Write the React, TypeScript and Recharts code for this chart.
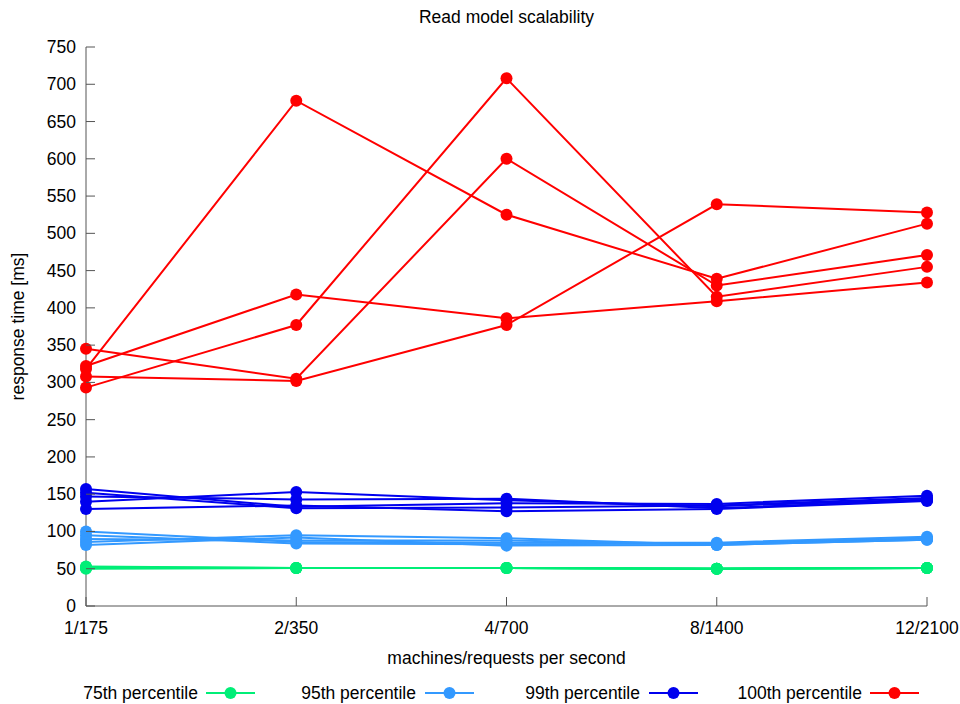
import React from 'react';
import { LineChart, Line, XAxis, YAxis } from 'recharts';

const categories = ['1/175', '2/350', '4/700', '8/1400', '12/2100'];
const yTicks = [0, 50, 100, 150, 200, 250, 300, 350, 400, 450, 500, 550, 600, 650, 700, 750];

const p75Runs = [
  [53, 51, 51, 50, 51],
  [52, 51, 51, 50, 51],
  [51, 51, 51, 50, 51],
  [51, 51, 51, 50, 51],
  [50, 51, 51, 50, 51],
];
const p95Runs = [
  [100, 86, 85, 85, 93],
  [95, 84, 83, 84, 91],
  [90, 88, 88, 83, 90],
  [86, 95, 91, 82, 89],
  [82, 92, 81, 82, 89],
];
const p99Runs = [
  [157, 133, 138, 137, 148],
  [152, 131, 132, 135, 145],
  [147, 143, 144, 131, 142],
  [140, 153, 142, 134, 143],
  [130, 135, 127, 130, 141],
];
const p100Runs = [
  [318, 678, 525, 439, 513],
  [345, 305, 600, 430, 471],
  [293, 377, 708, 415, 455],
  [322, 418, 386, 409, 434],
  [308, 302, 377, 539, 528],
];

const groups = [
  { key: 'p75', name: '75th percentile', color: '#00ee77', runs: p75Runs },
  { key: 'p95', name: '95th percentile', color: '#3399ff', runs: p95Runs },
  { key: 'p99', name: '99th percentile', color: '#0000ee', runs: p99Runs },
  { key: 'p100', name: '100th percentile', color: '#ff0000', runs: p100Runs },
];

const data = categories.map((c, i) => {
  const row: Record<string, any> = { cat: c };
  groups.forEach((g) => g.runs.forEach((r, j) => { row[`${g.key}_${j}`] = r[i]; }));
  return row;
});

const FONT = '"Liberation Sans", Arial, sans-serif';
const FS = 17.5;
const AXIS = '#555';

const YTick = (props: any) => {
  const { x, y, payload } = props;
  return (
    <g>
      <line x1={x} y1={y} x2={x + 9} y2={y} stroke={AXIS} strokeWidth={1} />
      <text x={x - 10} y={y + 6} textAnchor="end" fontFamily={FONT} fontSize={FS} fill="#000">{payload.value}</text>
    </g>
  );
};

const XTick = (props: any) => {
  const { x, y, payload } = props;
  return (
    <g>
      <line x1={x} y1={y} x2={x} y2={y - 9} stroke={AXIS} strokeWidth={1} />
      <text x={x} y={y + 28} textAnchor="middle" fontFamily={FONT} fontSize={FS} fill="#000">{payload.value}</text>
    </g>
  );
};

const legendItems = [
  { g: groups[0], textEnd: 198, sx: 206 },
  { g: groups[1], textEnd: 416, sx: 425 },
  { g: groups[2], textEnd: 640, sx: 649 },
  { g: groups[3], textEnd: 862, sx: 870 },
];

export default function App() {
  return (
    <div style={{ position: 'absolute', left: 0, top: 0, width: 960, height: 704, background: '#fff', fontFamily: FONT }}>
      <div style={{ position: 'absolute', left: 86, width: 841, top: 6, textAlign: 'center', fontSize: FS, lineHeight: '22px' }}>
        Read model scalability
      </div>
      <LineChart width={960} height={704} data={data} margin={{ top: 47, right: 33, left: 0, bottom: 0 }}>
        <XAxis
          dataKey="cat"
          height={98}
          tickLine={false}
          tickSize={0}
          tickMargin={0}
          tick={<XTick />}
          interval={0}
          axisLine={{ stroke: AXIS }}
          label={{
            content: (p: any) => {
              const vb = p.viewBox;
              return (
                <text x={vb.x + vb.width / 2} y={vb.y + 58} textAnchor="middle" fontFamily={FONT} fontSize={FS} fill="#000">
                  machines/requests per second
                </text>
              );
            },
          }}
        />
        <XAxis xAxisId="top" dataKey="cat" orientation="top" height={0} tick={false} tickLine={false} axisLine={{ stroke: AXIS }} />
        <YAxis
          width={86}
          domain={[0, 750]}
          ticks={yTicks}
          type="number"
          tickLine={false}
          tickSize={0}
          tickMargin={0}
          tick={<YTick />}
          interval={0}
          axisLine={{ stroke: AXIS }}
          label={{
            content: (p: any) => {
              const vb = p.viewBox;
              const cy = vb.y + vb.height / 2;
              return (
                <text x={24} y={cy} transform={`rotate(-90, 24, ${cy})`} textAnchor="middle" fontFamily={FONT} fontSize={FS} fill="#000">
                  response time [ms]
                </text>
              );
            },
          }}
        />
        <YAxis yAxisId="right" orientation="right" width={0} domain={[0, 750]} tick={false} tickLine={false} axisLine={{ stroke: AXIS }} />
        {groups.map((g) =>
          g.runs.map((_, j) => (
            <Line
              key={`${g.key}_${j}`}
              dataKey={`${g.key}_${j}`}
              xAxisId={0}
              yAxisId={0}
              stroke={g.color}
              strokeWidth={2}
              dot={{ r: 6, fill: g.color, stroke: g.color, strokeWidth: 0 }}
              activeDot={false}
              isAnimationActive={false}
              type="linear"
            />
          ))
        )}
      </LineChart>
      {legendItems.map(({ g, textEnd, sx }) => (
        <React.Fragment key={g.key}>
          <div style={{ position: 'absolute', right: 960 - textEnd, top: 682, fontSize: FS, lineHeight: '22px', whiteSpace: 'nowrap' }}>
            {g.name}
          </div>
          <svg style={{ position: 'absolute', left: sx, top: 683 }} width={50} height={20}>
            <line x1={0} y1={10} x2={49} y2={10} stroke={g.color} strokeWidth={2} />
            <circle cx={24.5} cy={10} r={6} fill={g.color} />
          </svg>
        </React.Fragment>
      ))}
    </div>
  );
}
